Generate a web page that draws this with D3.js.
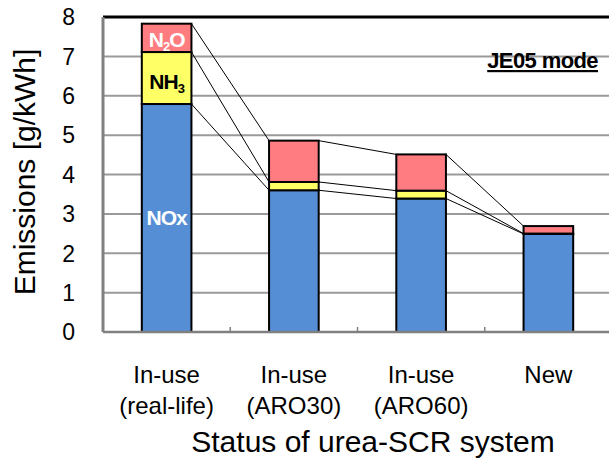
<!DOCTYPE html>
<html>
<head>
<meta charset="utf-8">
<script src="https://cdn.jsdelivr.net/npm/d3@7"></script>
<style>
  body { margin: 0; background: #fff; }
  text { font-family: "Liberation Sans", Arial, sans-serif; }
</style>
</head>
<body>
<div id="chart-area"></div>
<script>
// data
const categories = ["In-use\n(real-life)", "In-use\n(ARO30)", "In-use\n(ARO60)", "New"];
const nox = [5.79, 3.60, 3.39, 2.49];
const nh3 = [1.32, 0.21, 0.20, 0.01];
const n2o = [0.72, 1.05, 0.92, 0.19];
const yTicks = [0, 1, 2, 3, 4, 5, 6, 7, 8];

const colors = { nox: "#558ED5", nh3: "#FFFF66", n2o: "#FF7C80" };

const W = 609, H = 459;
const margin = {left: 103, right: -3, top: 17, bottom: 127};
const width = W - margin.left - margin.right,
      height = H - margin.top - margin.bottom;

const svg = d3.select("#chart-area").append("svg")
    .attr("width", W)
    .attr("height", H);

const g = svg.append("g")
    .attr("transform", "translate(" + margin.left + "," + margin.top + ")");

// scales
const x = d3.scaleBand()
    .domain(categories)
    .range([0, width])
    .paddingInner(0.61)
    .paddingOuter(0.305);

const y = d3.scaleLinear().domain([0, 8]).range([height, 0]);

// gridlines
g.selectAll(".grid").data(yTicks.filter(d => d > 0 && d < 8))
  .enter().append("line")
    .attr("x1", 0).attr("x2", width)
    .attr("y1", d => y(d)).attr("y2", d => y(d))
    .attr("stroke", "#9a9a9a").attr("stroke-width", 2);

// top border
g.append("line")
    .attr("x1", 0).attr("x2", width)
    .attr("y1", 0).attr("y2", 0)
    .attr("stroke", "#000").attr("stroke-width", 3);

// stacked data
const stacks = categories.map((c, i) => {
  const a = nox[i], b = a + nh3[i], t = b + n2o[i];
  return {cat: c, segs: [
    {k: "nox", y0: 0, y1: a},
    {k: "nh3", y0: a, y1: b},
    {k: "n2o", y0: b, y1: t}
  ]};
});

// connecting lines
for (let i = 0; i < stacks.length - 1; i++) {
  stacks[i].segs.forEach((s, j) => {
    const s2 = stacks[i + 1].segs[j];
    g.append("line")
      .attr("x1", x(stacks[i].cat) + x.bandwidth())
      .attr("y1", y(s.y1))
      .attr("x2", x(stacks[i + 1].cat))
      .attr("y2", y(s2.y1))
      .attr("stroke", "#000").attr("stroke-width", 1);
  });
}

// bars
const bars = g.selectAll(".bar").data(stacks).enter().append("g");
bars.selectAll("rect").data(d => d.segs.map(s => Object.assign({cat: d.cat}, s)))
  .enter().append("rect")
    .attr("x", d => x(d.cat))
    .attr("width", x.bandwidth())
    .attr("y", d => y(d.y1))
    .attr("height", d => y(d.y0) - y(d.y1))
    .attr("fill", d => colors[d.k])
    .attr("stroke", "#000")
    .attr("stroke-width", 2);

// axes
g.append("line")
    .attr("x1", 0).attr("x2", 0).attr("y1", 0).attr("y2", height)
    .attr("stroke", "#808080").attr("stroke-width", 3);
g.append("line")
    .attr("x1", 0).attr("x2", width).attr("y1", height).attr("y2", height)
    .attr("stroke", "#808080").attr("stroke-width", 2.5);

// category separator ticks
categories.slice(1).forEach(c => {
  const xx = x(c) - x.step() * x.paddingInner() / 2;
  g.append("line")
    .attr("x1", xx).attr("x2", xx).attr("y1", height).attr("y2", height - 5)
    .attr("stroke", "#808080").attr("stroke-width", 1.5);
});

// y tick labels
g.selectAll(".ytick").data(yTicks).enter().append("text")
    .attr("x", -28).attr("y", d => y(d))
    .attr("dy", "0.36em")
    .attr("text-anchor", "end")
    .attr("font-size", "23px")
    .text(d => d);

// x labels
categories.forEach(c => {
  const lines = c.split("\n");
  const t = g.append("text")
    .attr("x", x(c) + x.bandwidth() / 2)
    .attr("y", 383 - margin.top)
    .attr("text-anchor", "middle")
    .attr("font-size", "24px");
  lines.forEach((l, i) => {
    t.append("tspan").attr("x", x(c) + x.bandwidth() / 2)
      .attr("dy", i === 0 ? 0 : 31).text(l);
  });
});

// axis titles
svg.append("text")
    .attr("transform", "translate(35,172) rotate(-90)")
    .attr("text-anchor", "middle")
    .attr("font-size", "30px")
    .text("Emissions [g/kWh]");

svg.append("text")
    .attr("x", 373).attr("y", 452)
    .attr("text-anchor", "middle")
    .attr("font-size", "30px")
    .text("Status of urea-SCR system");

// mode label
svg.append("text")
    .attr("x", 598).attr("y", 68)
    .attr("text-anchor", "end")
    .attr("font-size", "22px")
    .attr("font-weight", "bold")
    .attr("text-decoration", "underline")
    .attr("letter-spacing", "-0.6px")
    .text("JE05 mode");

// in-bar labels
const c0 = x(categories[0]) + x.bandwidth() / 2;
const n2oLbl = svg.append("text")
    .attr("x", margin.left + c0).attr("y", 47)
    .attr("text-anchor", "middle")
    .attr("font-size", "21px").attr("font-weight", "bold")
    .attr("fill", "#fff").attr("letter-spacing", "-1px");
n2oLbl.append("tspan").text("N");
n2oLbl.append("tspan").attr("font-size", "13px").attr("dy", "4").text("2");
n2oLbl.append("tspan").attr("dy", "-4").text("O");

const nh3Lbl = svg.append("text")
    .attr("x", margin.left + c0).attr("y", 89)
    .attr("text-anchor", "middle")
    .attr("font-size", "21px").attr("font-weight", "bold")
    .attr("fill", "#000").attr("letter-spacing", "-1px");
nh3Lbl.append("tspan").text("NH");
nh3Lbl.append("tspan").attr("font-size", "13px").attr("dy", "4").text("3");

svg.append("text")
    .attr("x", margin.left + c0).attr("y", 225)
    .attr("text-anchor", "middle")
    .attr("font-size", "21px").attr("font-weight", "bold")
    .attr("fill", "#fff").attr("letter-spacing", "-1px")
    .text("NOx");
</script>
</body>
</html>
